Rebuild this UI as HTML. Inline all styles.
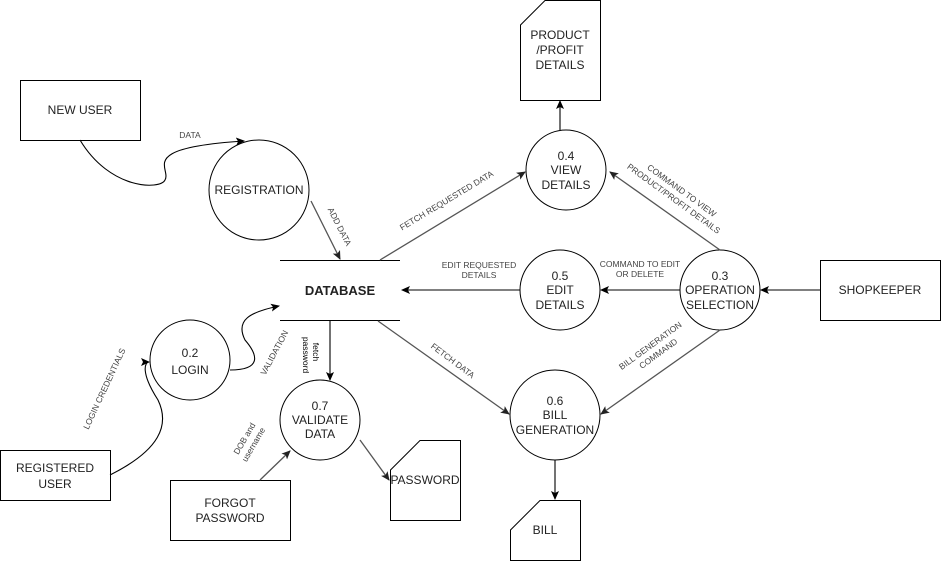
<!DOCTYPE html>
<html><head><meta charset="utf-8"><style>
html,body{margin:0;padding:0;background:#fff;}
svg{display:block;font-family:"Liberation Sans",Arial,sans-serif;}
.t{font-size:12px;fill:#222;text-anchor:middle;}
.l{font-size:8.5px;fill:#444;text-anchor:middle;}
</style></head><body>
<svg width="943" height="563" viewBox="0 0 943 563" xmlns="http://www.w3.org/2000/svg">
<defs>
<marker id="a" markerWidth="10" markerHeight="10" refX="8" refY="5" orient="auto" markerUnits="userSpaceOnUse"><path d="M0,1 L9,5 L0,9 L2,5 Z" fill="#000"/></marker>
<marker id="g" markerWidth="10" markerHeight="10" refX="8" refY="5" orient="auto" markerUnits="userSpaceOnUse"><path d="M0,1 L9,5 L0,9 L2,5 Z" fill="#222"/></marker>
</defs>
<g fill="#fff" stroke="#000" stroke-width="1">
<rect x="20.5" y="80.5" width="120" height="60"/>
<rect x="0.5" y="450.5" width="110" height="50"/>
<rect x="170.5" y="480.5" width="120" height="60"/>
<rect x="820.5" y="260.5" width="120" height="60"/>
<circle cx="259" cy="190" r="50"/>
<circle cx="190" cy="360" r="40"/>
<circle cx="320" cy="420" r="40"/>
<circle cx="566" cy="170" r="40"/>
<circle cx="560" cy="290" r="40"/>
<circle cx="720" cy="290" r="40"/>
<circle cx="555" cy="415" r="45"/>
<path d="M545,0.5 H600.5 V100.5 H520.5 V25 Z"/>
<path d="M420,440.5 H460.5 V520.5 H390.5 V470 Z"/>
<path d="M540,500.5 H580.5 V560.5 H510.5 V530 Z"/>
</g>
<g stroke="#000" stroke-width="1">
<line x1="280" y1="260.5" x2="400" y2="260.5"/>
<line x1="280" y1="320.5" x2="400" y2="320.5"/>
</g>
<g fill="none" stroke="#000" stroke-width="1.1">
<path d="M80,140 C110,190 160,190 165,180 C172,168 135,148 244,141" marker-end="url(#a)"/>
<path d="M110,475 C160,450 170,425 158,400 C140,372 145,362 149,362" marker-end="url(#a)"/>
<path d="M230,370 C262,370 258,355 245,340 C235,320 250,312 279,306" marker-end="url(#a)"/>
<line x1="330" y1="320" x2="330" y2="380" marker-end="url(#a)"/>
<line x1="560" y1="130" x2="560" y2="101" marker-end="url(#a)"/>
<line x1="680" y1="290" x2="601" y2="290" marker-end="url(#a)"/>
<line x1="520" y1="290" x2="402" y2="290" marker-end="url(#a)"/>
<line x1="820" y1="290" x2="761" y2="290" marker-end="url(#a)"/>
<line x1="555" y1="460" x2="555" y2="499" marker-end="url(#a)"/>
</g>
<g fill="none" stroke="#555" stroke-width="1.3">
<line x1="311" y1="201" x2="340" y2="259" marker-end="url(#g)"/>
<line x1="380" y1="260" x2="525" y2="172" marker-end="url(#g)"/>
<line x1="720" y1="250" x2="610" y2="172" marker-end="url(#g)"/>
<line x1="720" y1="330" x2="601" y2="414" marker-end="url(#g)"/>
<line x1="378" y1="321" x2="509" y2="414" marker-end="url(#g)"/>
<line x1="360" y1="440" x2="389" y2="480" marker-end="url(#g)"/>
<line x1="260" y1="480" x2="290" y2="451" marker-end="url(#g)"/>
</g>
<text class="t" x="80" y="114">NEW USER</text>
<text class="t" x="259" y="194">REGISTRATION</text>
<text class="t" x="340" y="295" style="font-weight:bold;font-size:13px">DATABASE</text>
<text class="t" x="190" y="357">0.2</text><text class="t" x="190" y="374">LOGIN</text>
<text class="t" x="55" y="472">REGISTERED</text><text class="t" x="55" y="488">USER</text>
<text class="t" x="320" y="410">0.7</text><text class="t" x="320" y="424">VALIDATE</text><text class="t" x="320" y="438">DATA</text>
<text class="t" x="425" y="484">PASSWORD</text>
<text class="t" x="230" y="507">FORGOT</text><text class="t" x="230" y="522">PASSWORD</text>
<text class="t" x="560" y="39">PRODUCT</text><text class="t" x="560" y="54">/PROFIT</text><text class="t" x="560" y="69">DETAILS</text>
<text class="t" x="566" y="160">0.4</text><text class="t" x="566" y="174">VIEW</text><text class="t" x="566" y="189">DETAILS</text>
<text class="t" x="560" y="280">0.5</text><text class="t" x="560" y="294">EDIT</text><text class="t" x="560" y="309">DETAILS</text>
<text class="t" x="720" y="280">0.3</text><text class="t" x="720" y="294">OPERATION</text><text class="t" x="720" y="309">SELECTION</text>
<text class="t" x="880" y="294">SHOPKEEPER</text>
<text class="t" x="555" y="405">0.6</text><text class="t" x="555" y="419">BILL</text><text class="t" x="555" y="434">GENERATION</text>
<text class="t" x="545" y="534">BILL</text>
<text class="l" x="190" y="138">DATA</text>
<text class="l" transform="translate(337,228) rotate(63)">ADD DATA</text>
<text class="l" transform="translate(448,203) rotate(-31)">FETCH  REQUESTED DATA</text>
<text class="l" transform="translate(680,193) rotate(36)">COMMAND TO VIEW</text>
<text class="l" transform="translate(672,201) rotate(36)">PRODUCT/PROFIT DETAILS</text>
<text class="l" x="479" y="268">EDIT REQUESTED</text><text class="l" x="479" y="278">DETAILS</text>
<text class="l" x="640" y="267">COMMAND TO EDIT</text><text class="l" x="640" y="277">OR DELETE</text>
<text class="l" transform="translate(652,348) rotate(-36)">BILL GENERATION</text>
<text class="l" transform="translate(660,356) rotate(-36)">COMMAND</text>
<text class="l" transform="translate(451,363) rotate(37)">FETCH DATA</text>
<text class="l" transform="translate(107,390) rotate(-65)">LOGIN CREDENTIALS</text>
<text class="l" transform="translate(277,354) rotate(-62)">VALIDATION</text>
<text class="l" transform="translate(313,352) rotate(90)" style="fill:#000">fetch</text>
<text class="l" transform="translate(303,355) rotate(90)" style="fill:#000">password</text>
<text class="l" transform="translate(247,440) rotate(-60)">DOB and</text>
<text class="l" transform="translate(256,446) rotate(-60)">username</text>
</svg>
</body></html>
